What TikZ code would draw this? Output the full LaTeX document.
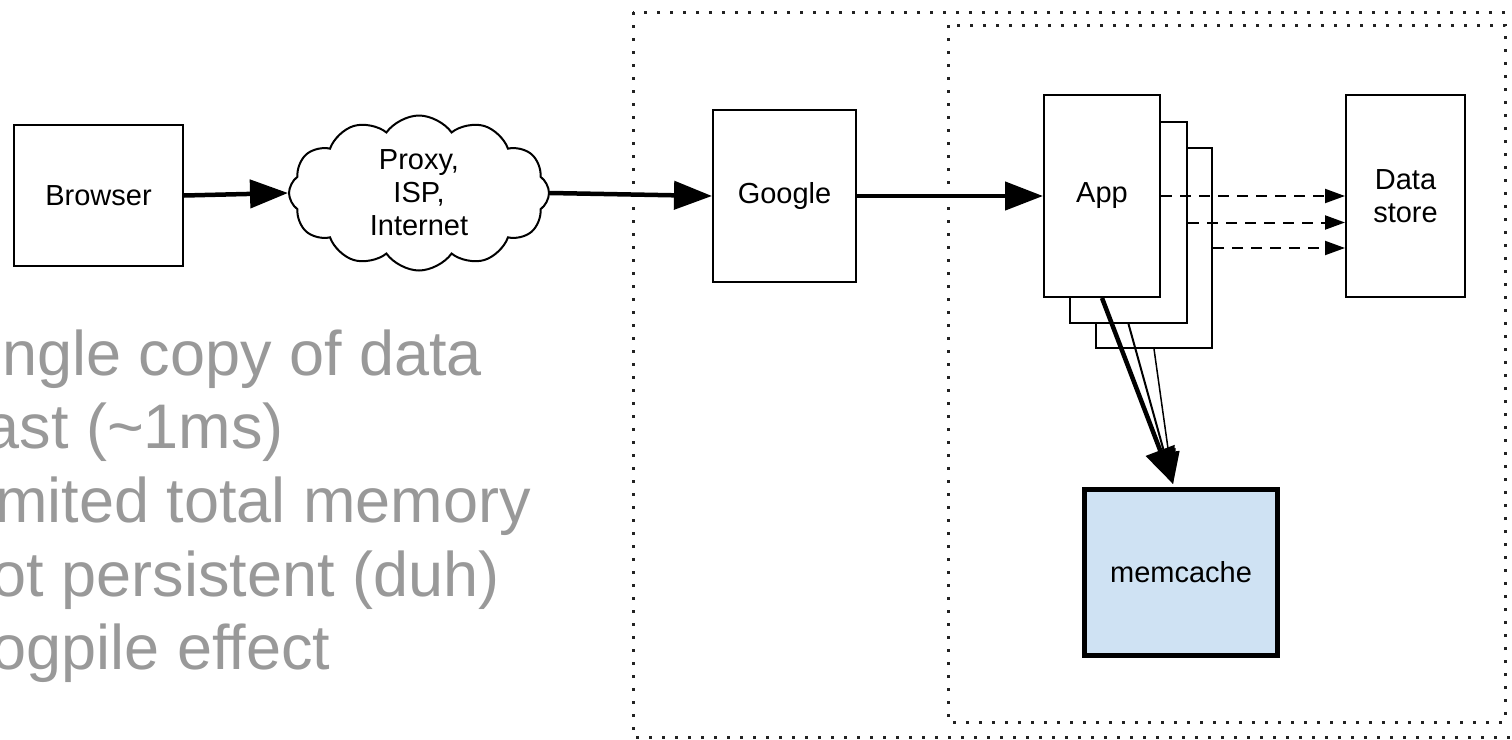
\documentclass[tikz,border=0pt]{standalone}
\usepackage{fontspec}
\setmainfont{Liberation Sans}
\usetikzlibrary{arrows.meta,shapes.symbols,calc}
\definecolor{memfill}{HTML}{CFE2F3}
\definecolor{notegray}{HTML}{999999}
\definecolor{dotgray}{HTML}{222222}
\tikzset{
  box/.style={draw=black, line width=2pt, fill=white, rectangle, inner sep=0pt,
              font=\fontsize{29}{33}\selectfont, align=center},
  flow/.style={line width=4.5pt, -{Triangle[length=38pt,width=28pt]}},
  store/.style={line width=2pt, dash pattern=on 11pt off 8pt,
                -{Triangle[length=20pt,width=14pt]}},
  zone/.style={draw=dotgray, line width=3pt, dash pattern=on 3pt off 10pt},
  note/.style={anchor=base west, text=notegray, inner sep=0pt,
               font=\fontsize{63}{74}\selectfont},
}
\begin{document}
\begin{tikzpicture}[x=1pt,y=-1pt]
\useasboundingbox (0,0) rectangle (1512,739);
\clip (0,0) rectangle (1512,739);

% dotted zones
\draw[zone] (633,12) rectangle (1540,737);
\draw[zone] (948,25) rectangle (1505,722);

% nodes
\node[box, minimum width=169pt, minimum height=141pt] (browser) at (98.5,195.5) {Browser};
\node[cloud, draw, line width=2pt, cloud puffs=12, cloud puff arc=110, aspect=1.7,
      minimum width=260pt, minimum height=155pt, inner sep=0pt,
      font=\fontsize{29}{33}\selectfont, align=center] (net) at (419,193) {Proxy,\\ISP,\\Internet};
\node[box, minimum width=143pt, minimum height=172pt] (google) at (784.5,196) {Google};

\node[box, minimum width=116pt, minimum height=200pt] (app3) at (1154,248) {};
\node[box, minimum width=117pt, minimum height=201pt] (app2) at (1128.5,222.5) {};
\node[box, minimum width=116pt, minimum height=202pt] (app1) at (1102,196) {App};

\node[box, minimum width=119pt, minimum height=202pt] (ds) at (1405.5,196) {Data\\store};
\node[box, line width=5pt, fill=memfill, minimum width=193pt, minimum height=166pt] (mem) at (1181,572.5) {memcache};

% request path
\draw[flow] (browser.east) -- (net.west);
\draw[flow] (net.east) -- (google.west);
\draw[flow] (google.east) -- (app1.west);

% datastore calls
\draw[store] (app1.east) -- (app1.east -| ds.west);
\draw[store] (app2.east) -- (app2.east -| ds.west);
\draw[store] (app3.east) -- (app3.east -| ds.west);

% memcache calls
\coordinate (memtop) at ($(mem.north)+(-8,-3)$);
\draw[line width=1.5pt, -{Triangle[length=32pt,width=22pt]}] (app3.south) -- (memtop);
\draw[line width=2pt, -{Triangle[length=34pt,width=24pt]}] (app2.south) -- (memtop);
\draw[line width=4.5pt, -{Triangle[length=36pt,width=30pt]}] (app1.south) -- (memtop);

% notes
\node[note] (n1) at (-54,375) {Single copy of data};
\node[note] (n2) at (-54,448) {Fast (\textasciitilde1ms)};
\node[note] (n3) at (-54,522) {Limited total memory};
\node[note] (n4) at (-54,596) {Not persistent (duh)};
\node[note] (n5) at (-54,669) {Dogpile effect};
\end{tikzpicture}
\end{document}
